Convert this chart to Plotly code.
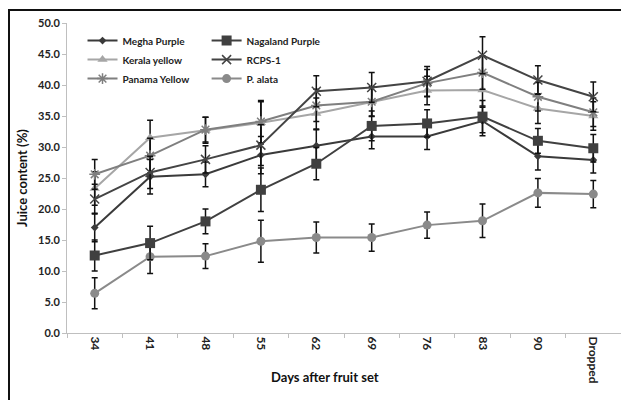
import plotly.graph_objects as go

categories = ["34", "41", "48", "55", "62", "69", "76", "83", "90", "Dropped"]

megha = [17.0, 25.2, 25.6, 28.7, 30.2, 31.7, 31.7, 34.2, 28.5, 27.9]
megha_err = [2.3, 2.8, 2.0, 3.0, 2.6, 2.0, 2.1, 2.4, 2.2, 2.1]

nagaland = [12.5, 14.5, 18.0, 23.1, 27.3, 33.4, 33.8, 34.9, 31.0, 29.8]
nagaland_err = [2.5, 2.7, 2.0, 3.5, 2.6, 2.4, 2.2, 2.6, 2.0, 2.2]

kerala = [23.3, 31.5, 32.7, 33.9, 35.4, 37.3, 39.1, 39.2, 36.2, 35.0]
kerala_err = [2.7, 2.8, 2.1, 3.4, 2.5, 2.3, 2.3, 2.8, 2.4, 2.3]

rcps = [21.6, 25.9, 28.0, 30.3, 39.0, 39.6, 40.6, 44.8, 40.8, 38.1]
rcps_err = [2.4, 2.6, 2.2, 3.3, 2.5, 2.4, 2.4, 3.0, 2.3, 2.4]

panama = [25.6, 28.6, 32.8, 34.1, 36.7, 37.3, 40.3, 42.0, 38.1, 35.6]
panama_err = [2.4, 2.8, 2.0, 3.4, 2.6, 2.4, 2.2, 2.7, 2.3, 2.3]

palata = [6.4, 12.3, 12.4, 14.8, 15.4, 15.4, 17.4, 18.1, 22.6, 22.4]
palata_err = [2.5, 2.7, 2.0, 3.4, 2.5, 2.2, 2.1, 2.7, 2.3, 2.2]

yticks = [0, 5, 10, 15, 20, 25, 30, 35, 40, 45, 50]

FONT = "Lato"

series = [
    ("Megha Purple", megha, megha_err, "#3a3a3a", "diamond", 6, "legend"),
    ("Kerala yellow", kerala, kerala_err, "#a6a6a6", "triangle-up", 9, "legend"),
    ("Panama Yellow", panama, panama_err, "#7f7f7f", "asterisk-open", 9, "legend"),
    ("Nagaland Purple", nagaland, nagaland_err, "#404040", "square", 10, "legend2"),
    ("RCPS-1", rcps, rcps_err, "#444444", "x-thin-open", 9, "legend2"),
    ("P. alata", palata, palata_err, "#8a8a8a", "circle", 9, "legend2"),
]

fig = go.Figure()
draw_order = ["P. alata", "Kerala yellow", "Panama Yellow", "Megha Purple", "Nagaland Purple", "RCPS-1"]
lookup = {s[0]: s for s in series}
for name in draw_order:
    nm, vals, errs, col, sym, sz, leg = lookup[name]
    marker = dict(symbol=sym, size=sz, color=col)
    if "open" in sym:
        marker["line"] = dict(color=col, width=1.5)
    fig.add_trace(go.Scatter(
        x=categories, y=vals, name=nm, mode="lines+markers",
        line=dict(color=col, width=2),
        marker=marker,
        error_y=dict(type="data", array=errs, visible=True, color="#111111",
                     thickness=1.5, width=3),
        legend=leg,
    ))

legend_rank = {"Megha Purple": 1, "Kerala yellow": 2, "Panama Yellow": 3,
               "Nagaland Purple": 1, "RCPS-1": 2, "P. alata": 3}
for tr in fig.data:
    tr.legendrank = legend_rank[tr.name]

legend_common = dict(
    bgcolor="rgba(0,0,0,0)", font=dict(family=FONT, size=10, color="#222222", weight="bold"),
    xanchor="left", yanchor="top", tracegroupgap=0, itemwidth=30,
)

fig.update_layout(
    width=621, height=400,
    margin=dict(l=67, r=0, t=23, b=67, autoexpand=False),
    paper_bgcolor="white", plot_bgcolor="white",
    font=dict(family=FONT, size=10, color="#222222"),
    legend=dict(x=0.028, y=0.99, **legend_common),
    legend2=dict(x=0.252, y=0.99, **legend_common),
    xaxis=dict(
        type="category", categoryorder="array", categoryarray=categories,
        range=[-0.5, 9.5], showline=True, linecolor="#bfbfbf", linewidth=1,
        ticks="outside", tickson="boundaries", tickcolor="#bfbfbf", ticklen=4,
        tickangle=90, showgrid=False, zeroline=False, automargin=False,
        tickfont=dict(family=FONT, size=12, color="#222222", weight="bold"),
    ),
    yaxis=dict(
        range=[0, 50], tickvals=yticks, tickformat=".1f",
        showline=True, linecolor="#bfbfbf", linewidth=1,
        ticks="outside", tickcolor="#bfbfbf", ticklen=4,
        showgrid=False, zeroline=False, automargin=False,
        tickfont=dict(family=FONT, size=11, color="#222222", weight="bold"),
    ),
    annotations=[
        dict(text="<b>Days after fruit set</b>", xref="paper", yref="paper",
             x=(325 - 67) / 554, y=(333 - 377) / 310, showarrow=False,
             font=dict(family=FONT, size=13, color="#111111"), xanchor="center", yanchor="middle"),
        dict(text="<b>Juice content (%)</b>", xref="paper", yref="paper",
             x=(22 - 67) / 554, y=(333 - 178) / 310, showarrow=False, textangle=-90,
             font=dict(family=FONT, size=13, color="#111111"), xanchor="center", yanchor="middle"),
    ],
    shapes=[
        dict(type="line", xref="paper", yref="paper", x0=(9 - 67) / 554, x1=(9 - 67) / 554,
             y0=(333 - 10) / 310, y1=(333 - 402) / 310, line=dict(color="#111111", width=2)),
        dict(type="line", xref="paper", yref="paper", x0=(8 - 67) / 554, x1=(623 - 67) / 554,
             y0=(333 - 10) / 310, y1=(333 - 10) / 310, line=dict(color="#111111", width=2)),
    ],
)

fig.write_html(
    "out.html",
    config={"displayModeBar": False},
    post_script="document.body.style.margin='0px';document.body.style.overflow='hidden';"
                "document.documentElement.style.overflow='hidden';",
)
